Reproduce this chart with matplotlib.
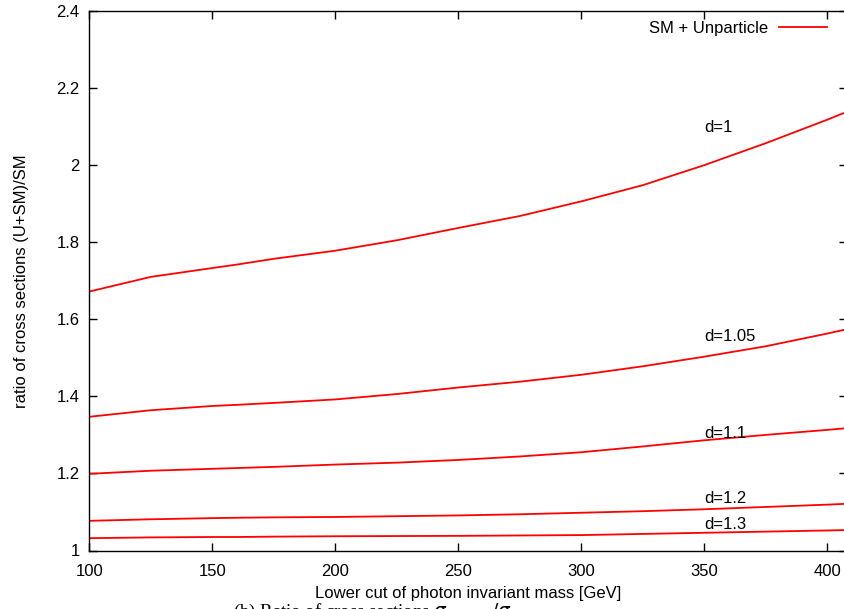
import matplotlib
matplotlib.use("Agg")
import matplotlib.pyplot as plt

plt.rcParams['font.family'] = ['Liberation Sans', 'DejaVu Sans']

x = [100, 125, 150, 160, 175, 200, 225, 250, 275, 300, 325, 350, 375, 400, 407]
d1 = [1.672, 1.710, 1.733, 1.742, 1.757, 1.778, 1.805, 1.837, 1.868, 1.906, 1.948, 2.000, 2.057, 2.118, 2.136]
d105 = [1.347, 1.364, 1.375, 1.378, 1.383, 1.392, 1.406, 1.423, 1.438, 1.456, 1.478, 1.503, 1.530, 1.563, 1.573]
d11 = [1.199, 1.207, 1.212, 1.214, 1.217, 1.223, 1.228, 1.235, 1.244, 1.255, 1.270, 1.286, 1.300, 1.313, 1.317]
d12 = [1.077, 1.081, 1.084, 1.085, 1.086, 1.087, 1.089, 1.091, 1.094, 1.098, 1.102, 1.107, 1.113, 1.119, 1.121]
d13 = [1.032, 1.034, 1.035, 1.035, 1.036, 1.037, 1.0375, 1.038, 1.039, 1.040, 1.043, 1.046, 1.049, 1.052, 1.053]
series = [d1, d105, d11, d12, d13]
labels = ["d=1", "d=1.05", "d=1.1", "d=1.2", "d=1.3"]
label_y = [2.098, 1.555, 1.304, 1.134, 1.068]
xticks = [100, 150, 200, 250, 300, 350, 400]
yticks = [1, 1.2, 1.4, 1.6, 1.8, 2, 2.2, 2.4]
ytick_labels = ["1", "1.2", "1.4", "1.6", "1.8", "2", "2.2", "2.4"]

fig = plt.figure(figsize=(8.45, 6.09), dpi=100)
ax = fig.add_axes([89.3 / 845, 58.5 / 609, 757.7 / 845, 539.5 / 609])

for i, s in enumerate(series):
    ax.plot(x, s, color='#ff0000', lw=1.3,
            label="SM + Unparticle" if i == 0 else None)
for lab, ly in zip(labels, label_y):
    ax.text(350, ly, lab, fontsize=12, ha='left', va='center')

ax.set_xlim(100, 408)
ax.set_ylim(1, 2.4)
ax.set_xticks(xticks)
ax.set_yticks(yticks)
ax.set_yticklabels(ytick_labels)
ax.tick_params(direction='in', length=6, width=1, top=True, right=True,
               labelsize=12, pad=7)
ax.tick_params(axis='x', pad=10)
for sp in ax.spines.values():
    sp.set_linewidth(1.0)

ax.set_xlabel("Lower cut of photon invariant mass [GeV]", fontsize=12, labelpad=5)
ax.set_ylabel("ratio of cross sections (U+SM)/SM", fontsize=12, labelpad=20)

leg = ax.legend(loc='upper right', bbox_to_anchor=(0.9736, 0.981), frameon=False,
                fontsize=12, markerfirst=False, handlelength=2.9,
                handletextpad=0.66, borderaxespad=0, borderpad=0)

fig.text(0.276, 0.012, r"(b) Ratio of cross sections $\sigma_{U+SM}/\sigma_{SM}$",
         fontsize=13.5, family='Liberation Serif', ha='left', va='top')

fig.savefig("out.png", dpi=100)
